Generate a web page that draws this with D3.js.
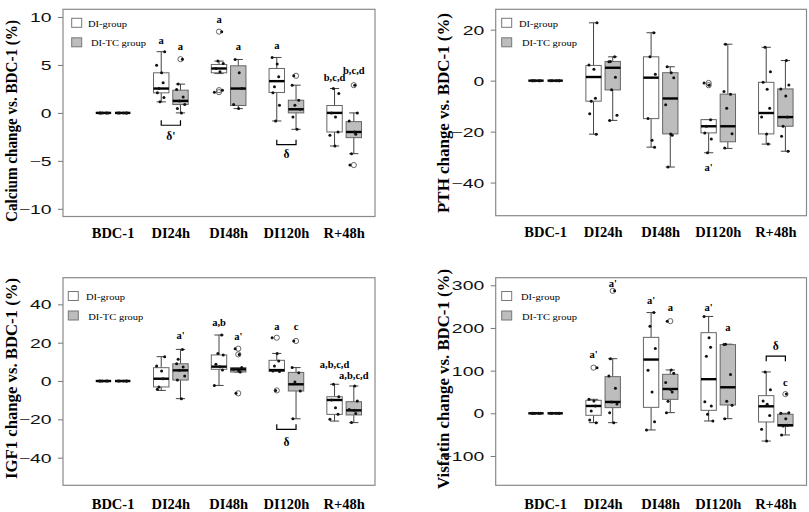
<!DOCTYPE html>
<html><head><meta charset="utf-8">
<script src="https://cdn.jsdelivr.net/npm/d3@7"></script>
<style>body{margin:0;background:#fff}svg{display:block}</style>
</head><body>
<svg id="chart" width="809" height="512"></svg>
<script>
// ---------- data ----------
const categories = ["BDC-1", "DI24h", "DI48h", "DI120h", "R+48h"];
const seriesNames = ["DI-group", "DI-TC group"];
// box order: BDC-1 DI, BDC-1 TC, DI24h DI, DI24h TC, ... ; stats = [low whisker, Q1, median, Q3, high whisker]

const calciumStats = [
  [0,0,0,0,0],[0,0,0,0,0],
  [1.15,2.09,2.54,4.18,6.38],[0,0.87,1.25,2.37,3.0],
  [4.1,4.18,4.63,5.05,5.4],[0.45,0.77,2.54,4.91,5.57],
  [-0.84,2.13,3.31,4.63,5.78],[-1.71,0,0.38,1.32,2.89],
  [-3.45,-1.99,0,0.77,2.54],[-4.25,-2.58,-1.99,-0.91,0]
];
const calciumOutliers = [[],[],[],[5.6],[8.47,2.37,2.16],[],[],[3.87],[],[2.89,-5.44]];
const calciumPoints = [
  [0,0,0,0,0],[0,0,0,0,0],
  [6.38,4.98,4.18,3.14,2.54,2.09,1.6,1.15],[5.6,3.0,2.44,1.67,1.25,0.87,0.45,0],
  [8.47,5.4,5.15,4.63,4.29,2.37,2.16],[5.57,4.18,2.54,0.87,0.45],
  [5.78,5.09,3.76,2.72,2.1,0.8,-0.84],[3.87,2.89,1.32,0.8,0.38,-0.42,-1.71],
  [2.54,2.02,0,-0.42,-1.99,-2.33,-3.45],[2.89,0,-0.84,-1.99,-2.23,-4.25,-5.44]
];
const calciumTicks = [-10,-5,0,5,10];
const calciumLetters = [[2,"a",7.5],[3,"a",6.97],[4,"a",9.7],[5,"a",6.9],[6,"a",7.07],[8,"b,c,d",3.7],[9,"b,c,d",4.46]];
const calciumBrackets = [[1,-1.29,"up","δ'",-2.44],[3,-3.31,"up","δ",-4.32]];

const pthStats = [
  [0,0,0,0,0],[0,0,0,0,0],
  [-21.0,-8.05,1.43,5.97,22.7],[-15.6,-3.64,5.06,7.53,9.35],
  [-26.1,-14.9,1.17,9.35,18.8],[-33.9,-20.9,-7.0,3.12,5.45],
  [-28.3,-20.5,-17.9,-15.3,-15.3],[-26.6,-24.0,-17.9,-5.3,14.3],
  [-24.9,-20.9,-12.7,-0.65,13.1],[-27.7,-17.9,-14.3,-3.25,7.9]
];
const pthOutliers = [[],[],[],[],[],[],[-0.9,-1.8],[],[],[]];
const pthPoints = [
  [0,0,0,0,0],[0,0,0,0,0],
  [22.7,6.1,4.5,-6.9,-8.05,-13,-21],[9.35,7.5,7.4,1.3,-3.6,-13.6,-15.6],
  [18.8,9.35,2.47,-14.9,-23.4,-26.1],[5.45,3.1,1.17,-9.5,-20.9,-21.4,-33.9],
  [-0.9,-1.8,-15.3,-17.9,-20.5,-22.9,-28.3],[14.3,-4.3,-5.3,-10.8,-20.8,-26.4],
  [13.1,3.5,-0.65,-3.4,-10.8,-14.3,-20.9,-24.9],[7.9,-1.7,-3.25,-6.0,-14.3,-17.9,-21.8,-27.7]
];
const pthTicks = [-40,-20,0,20];
const pthLetters = [[6,"a'",-34.2]];
const pthBrackets = [];

const igf1Stats = [
  [0,0,0,0,0],[0,0,0,0,0],
  [-4.9,-3.1,1.2,6.96,12.7],[-9.2,0.5,5.57,9.0,16.5],
  [-2.3,6.1,7.5,13.6,24],[4.7,4.7,6.1,7.0,7.0],
  [5.0,5.0,5.7,10.8,14.4],[-19.7,-5.2,-1.7,4.5,7.0],
  [-20.9,-17.4,-9.9,-8.2,-1.7],[-21.7,-17.7,-15.3,-10.8,-2.6]
];
const igf1Outliers = [[],[],[],[],[],[16.9,13.9,-6.4],[22.6,-4.9],[20.9],[],[]];
const igf1Points = [
  [0,0,0,0,0],[0,0,0,0,0],
  [12.7,7.8,5.2,1.2,-3.1,-4.3],[16.5,11.3,9.0,7.3,5.6,2.6,0.5,-9.2],
  [24,14.4,13.6,8.7,7.5,5.7,-2.3],[16.9,13.9,7.0,6.1,5.4,4.7,-6.4],
  [22.6,14.4,10.4,7.8,5.2,5.0,-4.9],[20.9,7.0,4.3,-0.5,-5.2,-19.7],
  [-1.7,-8.2,-9.9,-13.9,-17.4,-20.0],[-2.6,-10.4,-14.8,-15.3,-16.9,-21.7]
];
const igf1Ticks = [-40,-20,0,20,40];
const igf1Letters = [[3,"a'",23.5],[4,"a,b",30.4],[5,"a'",23],[6,"a",28.2],[7,"c",28.2],[8,"a,b,c,d",8.7],[9,"a,b,c,d",3.1]];
const igf1Brackets = [[3,-25.2,"up","δ",-31.8]];

const visfatinStats = [
  [0,0,0,0,0],[0,0,0,0,0],
  [-21.9,-4.7,17.2,30.5,32.8],[-21.9,13.3,26.6,85.9,128],
  [-39,14,126,178,236],[1.6,32.8,57,91.4,101.6],
  [-18,7,80,189,227],[-12.5,19.5,61,161,162],
  [-65,-20.3,16.4,41.4,97],[-50.8,-29.7,-28,-2.3,0]
];
const visfatinOutliers = [[],[],[107],[287],[],[216],[],[],[],[45]];
const visfatinPoints = [
  [0,0,0,0,0],[0,0,0,0,0],
  [107,32.8,28.9,17.2,5.5,-15.6,-21.9],[287,128,87.5,58.6,26.6,22,1.6,-21.9],
  [236,204,152,101,50,-19.5,-39],[216,101.6,94,72,56,50,28,1.6],
  [227,177,155,134,27,17,-2,-18],[162,161,91,28,19,-12.5],
  [97,55,29,21,-5,-37.5,-65],[45,1.6,0,-12.5,-28,-29.7,-50.8]
];
const visfatinTicks = [-100,0,100,200,300];
const visfatinLetters = [[2,"a'",137],[3,"a'",304],[4,"a'",265],[5,"a",249],[6,"a'",249],[7,"a",201],[9,"c",72]];
const visfatinBrackets = [[4,134,"down","δ",158]];

// ---------- layout ----------
const panels = [
  {title:"Calcium change vs. BDC-1 (%)", stats:calciumStats, outliers:calciumOutliers, points:calciumPoints, ticks:calciumTicks, letters:calciumLetters, brackets:calciumBrackets,
   L:63, R:375, T:9.3, B:216.5, ydom:[-10.8,10.8], catY:238, titleX:16.5, titleY:121, titleLen:202, legX:71.7, legY:18.3, legTX:[88,91]},
  {title:"PTH change vs. BDC-1 (%)", stats:pthStats, outliers:pthOutliers, points:pthPoints, ticks:pthTicks, letters:pthLetters, brackets:pthBrackets,
   L:495.7, R:806.5, T:9.3, B:215.7, ydom:[-53,28], catY:237, titleX:449, titleY:113, titleLen:200, legX:501.7, legY:18.3, legTX:[519,522]},
  {title:"IGF1 change vs. BDC-1 (%)", stats:igf1Stats, outliers:igf1Outliers, points:igf1Points, ticks:igf1Ticks, letters:igf1Letters, brackets:igf1Brackets,
   L:63, R:375, T:277.7, B:485.3, ydom:[-54.4,53.9], catY:509, titleX:16.5, titleY:378.5, titleLen:201, legX:68.3, legY:291.5, legTX:[86,88.3]},
  {title:"Visfatin change vs. BDC-1 (%)", stats:visfatinStats, outliers:visfatinOutliers, points:visfatinPoints, ticks:visfatinTicks, letters:visfatinLetters, brackets:visfatinBrackets,
   L:495.7, R:806.5, T:277.7, B:485.3, ydom:[-168.7,317.8], catY:509, titleX:449, titleY:379, titleLen:220, legX:501.7, legY:291.5, legTX:[521,522]}
];
const fills = ["#ffffff", "#bdbdbd"];
const jitter = [-0.2, 0.14, -0.06, 0.22, -0.16, 0.05, 0.18, -0.24, 0.02, 0.1, -0.12];
const serif = "'Liberation Serif','Times New Roman',serif";
const sans = "'Liberation Sans',Arial,sans-serif";

const svg = d3.select("#chart");

function txt(g, x, y, s, o) {
  const t = g.append("text")
    .attr("transform", `translate(${x},${y})` + (o.rot ? ` rotate(${o.rot})` : "") + ` scale(${o.sx||1},${o.sy||1})`)
    .attr("font-family", o.ff).attr("font-size", o.fs).attr("font-weight", o.fw || "normal")
    .attr("text-anchor", o.anchor || "start").attr("fill", "#000").text(s);
  if (o.len) t.attr("textLength", o.len).attr("lengthAdjust", "spacingAndGlyphs");
  return t;
}

panels.forEach(p => {
  const g = svg.append("g");
  const xs = d3.scaleLinear().domain([-1.1, 15.1]).range([p.L, p.R]);
  const ys = d3.scaleLinear().domain(p.ydom).range([p.B, p.T]);
  const pos = i => 1 + 3 * Math.floor(i / 2) + (i % 2);
  const bw = xs(0.8) - xs(0);
  const stapleW = bw * 0.3;

  // frame
  g.append("rect").attr("x", p.L).attr("y", p.T).attr("width", p.R - p.L).attr("height", p.B - p.T)
    .attr("fill", "none").attr("stroke", "#8a8a8a").attr("stroke-width", 1.2);

  // y axis
  const ax = g.append("g").attr("transform", `translate(${p.L},0)`)
    .call(d3.axisLeft(ys).tickValues(p.ticks).tickSize(5).tickPadding(0).tickFormat(d3.format("d")));
  ax.select(".domain").remove();
  ax.selectAll(".tick line").attr("stroke", "#777");
  ax.selectAll(".tick text").attr("x", null).attr("dy", "0.36em")
    .attr("transform", "translate(-11.5,0) scale(1.55,1)")
    .attr("font-family", sans).attr("font-size", 12.5).attr("fill", "#111");

  // y title
  txt(g, p.titleX, p.titleY, p.title, {rot:-90, ff:serif, fs:16, fw:"bold", anchor:"middle", len:p.titleLen});

  // category labels
  categories.forEach((c, k) => {
    txt(g, xs(1.5 + 3 * k), p.catY, c, {ff:serif, fs:14.5, fw:"bold", anchor:"middle"});
  });

  // boxes
  p.stats.forEach((s, i) => {
    const cx = xs(pos(i));
    const [lo, q1, med, q3, hi] = s;
    const bg = g.append("g");
    bg.append("line").attr("x1", cx).attr("x2", cx).attr("y1", ys(q3)).attr("y2", ys(hi)).attr("stroke", "#444").attr("stroke-width", 1);
    bg.append("line").attr("x1", cx).attr("x2", cx).attr("y1", ys(q1)).attr("y2", ys(lo)).attr("stroke", "#444").attr("stroke-width", 1);
    [lo, hi].forEach(v => bg.append("line").attr("x1", cx - stapleW).attr("x2", cx + stapleW)
      .attr("y1", ys(v)).attr("y2", ys(v)).attr("stroke", "#444").attr("stroke-width", 1));
    bg.append("rect").attr("x", cx - bw / 2).attr("y", ys(q3)).attr("width", bw).attr("height", ys(q1) - ys(q3))
      .attr("fill", fills[i % 2]).attr("stroke", "#666").attr("stroke-width", 1);
    bg.append("line").attr("x1", cx - bw / 2).attr("x2", cx + bw / 2).attr("y1", ys(med)).attr("y2", ys(med))
      .attr("stroke", "#000").attr("stroke-width", 2.4);
    p.outliers[i].forEach(v => bg.append("circle").attr("cx", cx).attr("cy", ys(v)).attr("r", 2.6)
      .attr("fill", "none").attr("stroke", "#555").attr("stroke-width", 0.9));
  });

  // jittered points
  p.points.forEach((arr, i) => {
    arr.forEach((v, j) => {
      g.append("circle").attr("cx", xs(pos(i) + jitter[(j + i * 3) % jitter.length]))
        .attr("cy", ys(v)).attr("r", 1.5).attr("fill", "#111");
    });
  });

  // significance letters
  p.letters.forEach(([i, t, v]) => {
    txt(g, xs(pos(i)), ys(v) + 3.5, t, {ff:serif, fs:10.5, fw:"bold", anchor:"middle"});
  });

  // brackets
  p.brackets.forEach(([k, v, dir, t, tv]) => {
    const x1 = xs(1 + 3 * k), x2 = xs(2 + 3 * k), y = ys(v);
    const d = dir === "up" ? -5 : 5;
    g.append("path").attr("d", `M${x1},${y + d}V${y}H${x2}V${y + d}`)
      .attr("fill", "none").attr("stroke", "#000").attr("stroke-width", 1.2);
    txt(g, (x1 + x2) / 2, ys(tv) + 4, t, {ff:serif, fs:11.5, fw:"bold", anchor:"middle"});
  });

  // legend
  seriesNames.forEach((n, k) => {
    const y0 = p.legY + k * 19.5;
    g.append("rect").attr("x", p.legX).attr("y", y0).attr("width", 10).attr("height", 9)
      .attr("fill", fills[k]).attr("stroke", "#777").attr("stroke-width", 1);
    txt(g, p.legTX[k], y0 + 8.5, n, {ff:serif, fs:10.5, sy:0.85});
  });
});
</script>
</body></html>
